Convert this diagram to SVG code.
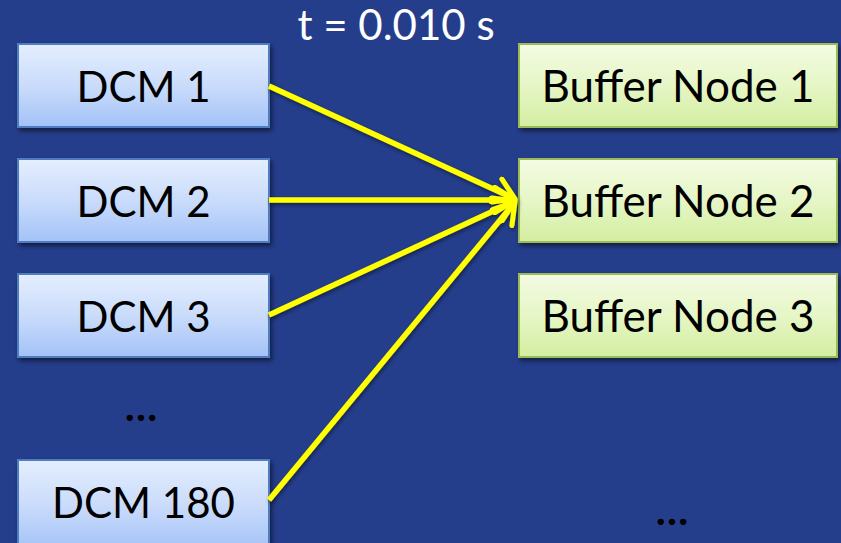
<svg xmlns="http://www.w3.org/2000/svg" width="841" height="543" viewBox="0 0 841 543">
  <defs>
    <linearGradient id="gBlue" x1="0" y1="0" x2="0" y2="1">
      <stop offset="0" stop-color="#E4EEFE"/>
      <stop offset="0.5" stop-color="#CADCFB"/>
      <stop offset="1" stop-color="#A3C2F7"/>
    </linearGradient>
    <linearGradient id="gGreen" x1="0" y1="0" x2="0" y2="1">
      <stop offset="0" stop-color="#F3FBE2"/>
      <stop offset="0.5" stop-color="#E6F6C6"/>
      <stop offset="1" stop-color="#D3EEA0"/>
    </linearGradient>
    <filter id="shadow" x="-10%" y="-10%" width="125%" height="130%">
      <feGaussianBlur in="SourceAlpha" stdDeviation="2.5"/>
      <feOffset dx="2" dy="3" result="b"/>
      <feComponentTransfer><feFuncA type="linear" slope="0.55"/></feComponentTransfer>
      <feMerge><feMergeNode/><feMergeNode in="SourceGraphic"/></feMerge>
    </filter>
    <filter id="glow" x="-10%" y="-10%" width="120%" height="120%">
      <feGaussianBlur in="SourceAlpha" stdDeviation="2"/>
      <feOffset dx="1" dy="2"/>
      <feComponentTransfer><feFuncA type="linear" slope="0.5"/></feComponentTransfer>
      <feMerge><feMergeNode/><feMergeNode in="SourceGraphic"/></feMerge>
    </filter>
    <marker id="arrow" viewBox="0 0 12 12" refX="10" refY="6" markerWidth="5.5" markerHeight="5.5" orient="auto" markerUnits="strokeWidth">
      <path d="M2,1 L10,6 L2,11" fill="none" stroke="#FFFF00" stroke-width="2" stroke-linecap="round" stroke-linejoin="round"/>
    </marker>
    <style>
      .dcm rect { fill: url(#gBlue); stroke: #4F7DC0; stroke-width: 2; filter: url(#shadow); }
      .buf rect { fill: url(#gGreen); stroke: #9BBB59; stroke-width: 2; filter: url(#shadow); }
      .lbl { font-family: Lato, "Open Sans", "Liberation Sans", sans-serif; font-size: 42px; fill: #000; text-anchor: middle; }
      .buf .lbl { font-size: 44px; }
      .dots { font-family: Lato, "Open Sans", "Liberation Sans", sans-serif; font-size: 42px; font-weight: bold; fill: #000; text-anchor: middle; }
      .title { font-family: Lato, "Open Sans", "Liberation Sans", sans-serif; font-size: 42px; fill: #FFFFFF; text-anchor: middle; }
      .conn line { stroke: #FFFF00; stroke-width: 5.5; marker-end: url(#arrow); }
    </style>
  </defs>

  <rect width="841" height="543" fill="#253E8C"/>

  <text class="title" x="396" y="39.5">t = 0.010 s</text>

  <g id="dcm1" class="dcm"><rect x="18" y="44" width="251" height="83"/><text class="lbl" x="143.5" y="102">DCM 1</text></g>
  <g id="dcm2" class="dcm"><rect x="18" y="159" width="251" height="83"/><text class="lbl" x="143.5" y="217">DCM 2</text></g>
  <g id="dcm3" class="dcm"><rect x="18" y="274" width="251" height="83"/><text class="lbl" x="143.5" y="332">DCM 3</text></g>
  <text class="dots" x="141" y="421">…</text>
  <g id="dcm180" class="dcm"><rect x="18" y="460" width="251" height="90"/><text class="lbl" x="143.5" y="518">DCM 180</text></g>

  <g id="buf1" class="buf"><rect x="519" y="44" width="318" height="83"/><text class="lbl" x="678" y="102">Buffer Node 1</text></g>
  <g id="buf2" class="buf"><rect x="519" y="159" width="318" height="83"/><text class="lbl" x="678" y="217">Buffer Node 2</text></g>
  <g id="buf3" class="buf"><rect x="519" y="274" width="318" height="83"/><text class="lbl" x="678" y="332">Buffer Node 3</text></g>
  <text class="dots" x="672" y="525">…</text>

  <g id="connectors" class="conn" filter="url(#glow)">
    <line x1="269" y1="86" x2="515" y2="199"/>
    <line x1="269" y1="200" x2="515" y2="200"/>
    <line x1="269" y1="315" x2="515" y2="201"/>
    <line x1="269" y1="500" x2="515" y2="202"/>
  </g>
</svg>
